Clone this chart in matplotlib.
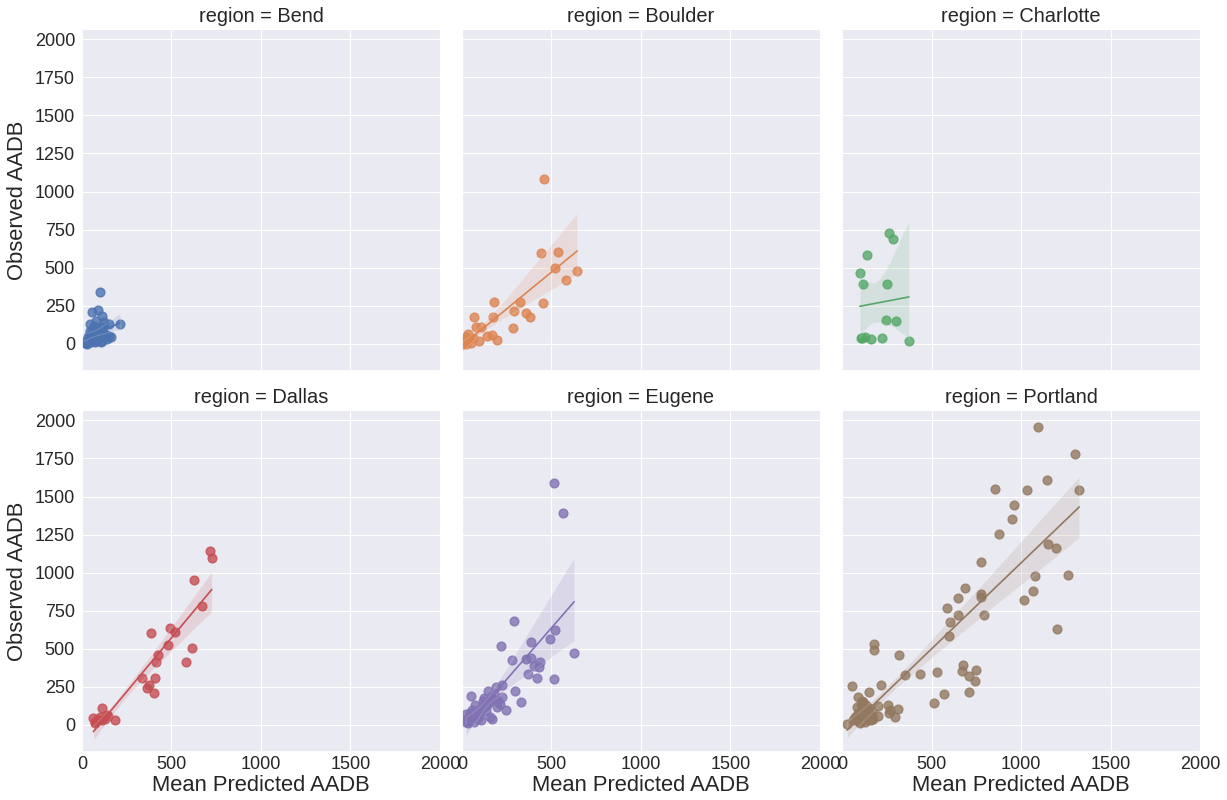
import numpy as np
import pandas as pd
import matplotlib
matplotlib.use("Agg")
import matplotlib.pyplot as plt
import seaborn as sns

regions = ["Bend", "Boulder", "Charlotte", "Dallas", "Eugene", "Portland"]

bend_x = [101, 58, 92, 110, 213, 150, 45, 80, 120, 100, 60, 40, 70, 150, 130, 30, 50, 20, 90, 110,
          60, 80, 100, 125, 70, 40, 25, 35, 55, 75, 95, 135, 140, 160, 85, 65, 45, 115, 105, 30,
          15, 10, 50, 65, 90]
bend_y = [341, 210, 220, 185, 128, 130, 130, 150, 110, 90, 100, 60, 70, 50, 45, 20, 10, 5, 30, 20,
          40, 60, 110, 140, 120, 30, 15, 45, 25, 15, 50, 60, 30, 45, 80, 55, 85, 75, 15, 0,
          5, 10, 35, 20, 40]

boulder_x = [457, 444, 535, 522, 644, 579, 453, 322, 180, 288, 360, 382, 176, 69, 285, 77, 107, 139,
             167, 198, 97, 35, 20, 20, 10, 40, 50, 30, 60, 25, 5, 15]
boulder_y = [1084, 599, 605, 496, 479, 418, 271, 277, 275, 216, 205, 177, 173, 173, 103, 107, 107, 52,
             59, 26, 20, 63, 10, 0, 10, 30, 5, 20, 40, 45, 0, 25]

charlotte_x = [264, 285, 140, 99, 115, 251, 246, 302, 108, 127, 164, 223, 374, 110]
charlotte_y = [727, 690, 586, 468, 395, 395, 158, 147, 37, 43, 29, 37, 18, 35]

dallas_x = [715, 725, 625, 669, 388, 494, 517, 478, 612, 425, 416, 579, 335, 410, 376, 363, 404,
            110, 182, 139, 64, 73, 90, 129, 146, 82, 110, 100, 75]
dallas_y = [1141, 1093, 951, 780, 601, 634, 612, 523, 505, 461, 413, 413, 306, 310, 262, 242, 212,
            114, 33, 66, 44, 11, 30, 40, 56, 30, 30, 50, 20]

eugene_x = [513, 564, 290, 519, 490, 386, 217, 627, 279, 358, 388, 438, 404, 429, 369, 421, 515,
            294, 330, 223, 191, 148, 49, 122, 172, 226, 195, 245, 167,
            20, 30, 40, 50, 60, 70, 80, 90, 100, 110, 120, 130, 140, 150, 35, 55, 75, 95, 115, 135,
            45, 65, 85, 105, 25, 160, 180, 200, 210, 155]
eugene_y = [1591, 1395, 684, 623, 562, 542, 518, 470, 428, 433, 437, 415, 387, 383, 334, 306, 299,
            223, 153, 262, 247, 225, 192, 177, 172, 181, 120, 98, 41,
            20, 40, 30, 60, 50, 80, 70, 100, 90, 120, 110, 140, 130, 150, 10, 100, 130, 60, 160, 90,
            80, 20, 40, 30, 70, 180, 200, 160, 140, 50]

portland_x = [854, 959, 949, 875, 777, 685, 650, 777, 775, 584, 650, 794, 601, 596, 177, 177, 317,
              676, 672, 751, 710, 744, 710, 529, 438, 350, 568, 512, 216, 56, 149, 89, 257, 313,
              270, 298, 201, 201, 28, 261,
              1094, 1302, 1146, 1036, 1325, 1150, 1197, 1080, 1265, 1067, 1015, 1202,
              80, 90, 100, 110, 120, 130, 140, 150, 160, 170, 85, 95, 105, 115, 125, 135, 145, 155,
              165, 100, 120, 140, 110, 130, 90, 75, 175, 60]
portland_y = [1552, 1445, 1351, 1252, 1071, 898, 835, 859, 840, 769, 724, 724, 675, 584, 534, 490, 461,
              393, 356, 361, 323, 290, 218, 347, 336, 330, 204, 143, 264, 257, 219, 182, 132, 103,
              99, 55, 125, 59, 7, 77,
              1954, 1779, 1609, 1541, 1541, 1185, 1165, 979, 986, 880, 818, 628,
              40, 60, 80, 100, 50, 70, 90, 110, 30, 60, 120, 20, 140, 40, 100, 130, 30, 70,
              90, 10, 150, 50, 160, 20, 80, 50, 40, 30]

region_x = [bend_x, boulder_x, charlotte_x, dallas_x, eugene_x, portland_x]
region_y = [bend_y, boulder_y, charlotte_y, dallas_y, eugene_y, portland_y]

xticks = [0, 500, 1000, 1500, 2000]
yticks = [0, 250, 500, 750, 1000, 1250, 1500, 1750, 2000]

frames = []
for name, xs, ys in zip(regions, region_x, region_y):
    frames.append(pd.DataFrame({"Mean Predicted AADB": xs, "Observed AADB": ys, "region": name}))
df = pd.concat(frames, ignore_index=True)

sns.set_theme(style="darkgrid", rc={"grid.linewidth": 0.8})
plt.rcParams["font.family"] = ["Liberation Sans", "DejaVu Sans"]

g = sns.lmplot(data=df, x="Mean Predicted AADB", y="Observed AADB", col="region", hue="region",
               col_wrap=3, height=4, aspect=1.0225, seed=0,
               scatter_kws={"s": 40}, line_kws={"lw": 1.2})
g.set(xlim=(0, 2000), ylim=(-178, 2061), xticks=xticks, yticks=yticks)
g.set_titles("region = {col_name}", size=14.4)
for ax in g.axes.flat:
    ax.tick_params(axis="x", labelsize=13, length=0, pad=3)
    ax.tick_params(axis="y", labelsize=13, length=0, pad=5)
    ax.xaxis.label.set_size(15.8)
    ax.yaxis.label.set_size(15.8)
    ax.xaxis.labelpad = 1
    ax.yaxis.labelpad = 5
g.fig.set_size_inches(12.27, 8)
g.fig.subplots_adjust(left=0.0668, right=0.978, bottom=0.06, top=0.9625, wspace=0.0615, hspace=0.118)
g.fig.savefig("out.png", dpi=100)
